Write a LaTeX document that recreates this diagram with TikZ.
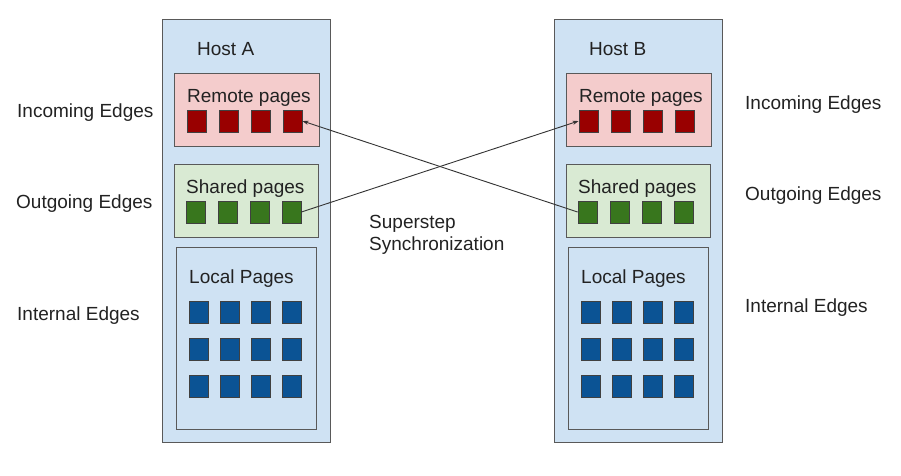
\documentclass[tikz,border=0pt]{standalone}
\usepackage{fontspec}
\setmainfont{Liberation Sans}
\usepackage[svgnames]{xcolor}
\usepackage{tikz}
\usetikzlibrary{positioning, arrows.meta, calc}

\definecolor{hostfill}{HTML}{CFE2F3}
\definecolor{boxline}{HTML}{595959}
\definecolor{remotefill}{HTML}{F4CCCC}
\definecolor{remotered}{HTML}{990000}
\definecolor{sharedfill}{HTML}{D9EAD3}
\definecolor{sharedgreen}{HTML}{38761D}
\definecolor{localblue}{HTML}{0B5394}
\definecolor{txtgray}{HTML}{222222}

\tikzset{
    hostbox/.style={draw=boxline, fill=hostfill, line width=1pt, inner sep=0pt},
    groupbox/.style={draw=boxline, line width=1pt, inner sep=0pt},
    page/.style={draw=black!75, line width=0.8pt, minimum width=19pt, minimum height=22pt, inner sep=0pt},
    txt/.style={anchor=base west, inner sep=0pt, text=txtgray, font=\fontsize{19}{22}\selectfont},
    sync/.style={draw=black!80, line width=0.9pt, -{Stealth[length=6pt, width=4pt]}}
}

\def\drawhost#1#2#3{%
    \begin{scope}[xshift=#2]
        % outer host box
        \node[hostbox, minimum width=168, minimum height=423] (#1) at (246,230.5) {};
        \node[txt] (#1title) at (197,55) {Host #3};

        % remote pages
        \node[groupbox, fill=remotefill, minimum width=145, minimum height=73] (#1remote) at (246.5,109.5) {};
        \node[txt] (#1remotetxt) at (187,102) {Remote pages};
        \foreach \i in {1,...,4}
        {
            \node[page, fill=remotered] (#1r\i) at (164.5+32*\i,121) {};
        }

        % shared pages
        \node[groupbox, fill=sharedfill, minimum width=144, minimum height=73] (#1shared) at (246,200.5) {};
        \node[txt] (#1sharedtxt) at (186,193) {Shared pages};
        \foreach \i in {1,...,4}
        {
            \node[page, fill=sharedgreen] (#1s\i) at (163.5+32*\i,212) {};
        }

        % local pages
        \node[groupbox, fill=hostfill, minimum width=140, minimum height=182] (#1local) at (246,338) {};
        \node[txt] (#1localtxt) at (189,283) {Local Pages};
        \foreach \j in {1,...,3}
        {
            \foreach \i in {1,...,4}
            {
                \node[page, fill=localblue] (#1l\j\i) at (168+31*\i,275.5+37*\j) {};
            }
        }
    \end{scope}
}

\begin{document}
\begin{tikzpicture}[x=1pt, y=-1pt]
    \useasboundingbox (0,0) rectangle (901,475);

    \drawhost{A}{0pt}{A}
    \drawhost{B}{392pt}{B}

    % edge labels
    \node[txt] (inA) at (17,117) {Incoming Edges};
    \node[txt] (outA) at (16,208) {Outgoing Edges};
    \node[txt] (intA) at (17,320) {Internal Edges};
    \node[txt] (inB) at (745,109) {Incoming Edges};
    \node[txt] (outB) at (745,200) {Outgoing Edges};
    \node[txt] (intB) at (745,312) {Internal Edges};

    \node[txt] (sup) at (369,228) {Superstep};
    \node[txt] (syn) at (369,250) {Synchronization};

    % superstep messages
    \draw[sync] (Bs1.west) -- (Ar4.east);
    \draw[sync] (As4.east) -- (Br1.west);
\end{tikzpicture}
\end{document}
